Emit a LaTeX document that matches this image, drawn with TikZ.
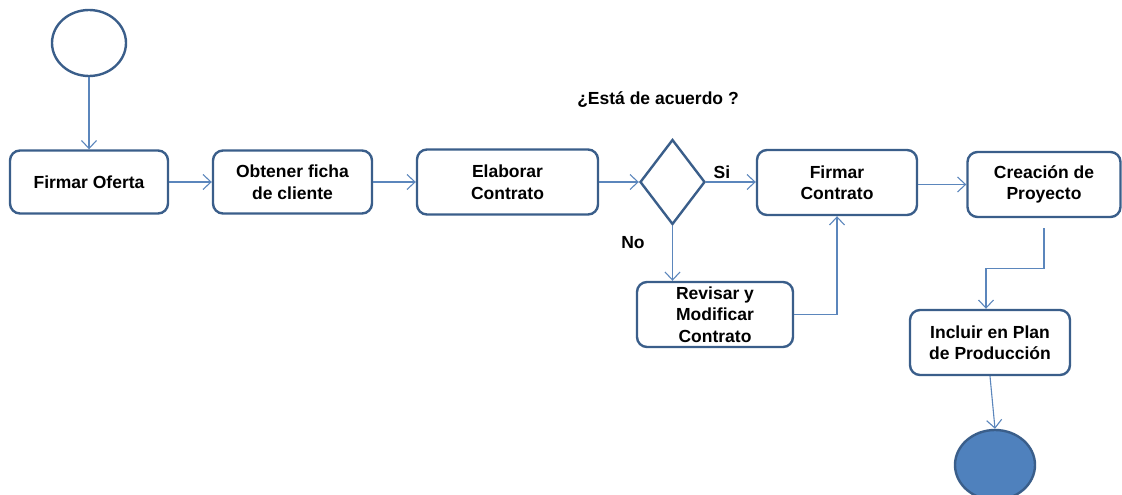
\documentclass[tikz,border=0pt]{standalone}
\usepackage{fontspec}
\setmainfont{Liberation Sans}
\usetikzlibrary{shapes.geometric,arrows.meta}
\definecolor{boxline}{HTML}{3A5E8A}
\definecolor{conn}{HTML}{5B86BC}
\definecolor{endfill}{HTML}{4F81BD}
\tikzset{
  actbox/.style={draw=boxline, line width=2.4pt, rounded corners=10pt, fill=white,
    align=center, inner sep=2pt, font=\fontsize{17.5}{21.5}\selectfont\bfseries},
  conline/.style={draw=conn, line width=1.1pt,
    -{Straight Barb[length=8pt,width=15pt]}},
  lbl/.style={font=\fontsize{17.5}{21.5}\selectfont\bfseries, inner sep=0pt}
}
\begin{document}
\begin{tikzpicture}[x=1pt,y=-1pt]
\useasboundingbox (0,0) rectangle (1122,495);
\node[ellipse, draw=boxline, line width=2.4pt, minimum width=74pt, minimum height=66pt, inner sep=0pt] (start) at (89,43) {};
\node[actbox, minimum width=158pt, minimum height=63pt] (fo) at (89,182) {Firmar Oferta};
\node[actbox, minimum width=159pt, minimum height=63pt] (ob) at (292.5,182) {Obtener ficha\\de cliente};
\node[actbox, minimum width=181pt, minimum height=65pt] (el) at (507.5,182) {Elaborar\\Contrato};
\node[diamond, aspect=0.76, draw=boxline, line width=2.4pt, minimum width=65pt, minimum height=85pt, inner sep=0pt] (dec) at (672.5,182) {};
\node[actbox, minimum width=160pt, minimum height=65pt] (fc) at (837,182.5) {Firmar\\Contrato};
\node[actbox, minimum width=153pt, minimum height=65pt] (cp) at (1044,184.5) {Creación de\\Proyecto};
\node[actbox, minimum width=156pt, minimum height=65pt] (rv) at (715,314.5) {Revisar y\\Modificar\\Contrato};
\node[actbox, minimum width=160pt, minimum height=65pt] (inc) at (990,342.5) {Incluir en Plan\\de Producción};
\node[ellipse, draw=boxline, fill=endfill, line width=2.4pt, minimum width=80pt, minimum height=70pt, inner sep=0pt] (end) at (995,465) {};
\node[lbl] (q) at (658,100) {¿Está de acuerdo ?};
\node[lbl] (si) at (722,172) {Si};
\node[lbl] (no) at (633,243) {No};

\draw[conline] (start.south) -- (fo.north);
\draw[conline] (fo.east) -- (ob.west);
\draw[conline] (ob.east) -- (el.west);
\draw[conline] (el.east) -- (dec.west);
\draw[conline] (dec.east) -- (dec.east -| fc.west);
\draw[conline] (dec.south) -- (dec.south |- rv.north);
\draw[conline] (rv.east) -| (fc.south);
\draw[conline] (fc.east |- cp.west) -- (cp.west);
\draw[conline, shorten <=10pt] (cp.south) -- ++(0,50) -| ([xshift=-4pt]inc.north);
\draw[conline] (inc.south) -- (end.north);
\end{tikzpicture}
\end{document}
